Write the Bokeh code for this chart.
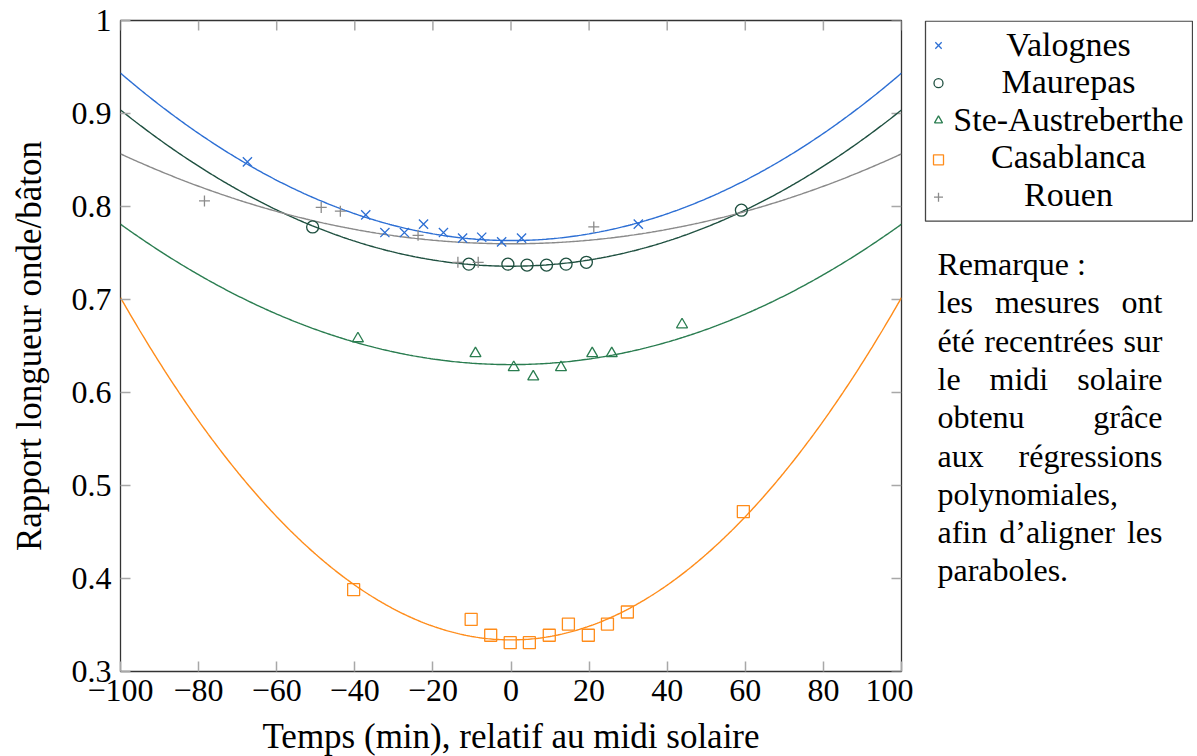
import numpy as np
from bokeh.plotting import figure
from bokeh.models import Range1d, FixedTicker
from bokeh.layouts import row
from bokeh.embed import file_html
from bokeh.resources import INLINE
from bokeh.core.properties import value

# ---------------- data ----------------
series_names = ["Valognes", "Maurepas", "Ste-Austreberthe", "Casablanca", "Rouen"]

valognes_x = [-67.5, -37.2, -32.3, -27.3, -22.4, -17.3, -12.4, -7.5, -2.4, 2.7, 32.6]
valognes_y = [0.848, 0.791, 0.772, 0.772, 0.781, 0.772, 0.766, 0.767, 0.762, 0.766, 0.781]

maurepas_x = [-50.8, -10.8, -0.8, 4.1, 9.1, 14.1, 19.3, 59.0]
maurepas_y = [0.778, 0.738, 0.738, 0.737, 0.737, 0.738, 0.740, 0.796]

ste_x = [-39.2, -9.1, 0.7, 5.7, 12.8, 20.8, 25.8, 43.8]
ste_y = [0.658, 0.642, 0.627, 0.617, 0.627, 0.642, 0.642, 0.673]

casa_x = [-40.3, -10.2, -5.2, -0.2, 4.7, 9.8, 14.7, 19.8, 24.7, 29.8, 59.5]
casa_y = [0.388, 0.356, 0.339, 0.331, 0.331, 0.339, 0.351, 0.339, 0.351, 0.364, 0.472]

rouen_x = [-78.5, -48.6, -43.7, -23.8, -13.6, -8.4, 21.2]
rouen_y = [0.806, 0.799, 0.795, 0.769, 0.740, 0.740, 0.778]

# regression parabolas y = c + a * t^2
fit_c = [0.7634, 0.7358, 0.630, 0.334, 0.7599]
fit_a = [1.80e-5, 1.68e-5, 1.51e-5, 3.68e-5, 9.67e-6]

x_ticks = [-100, -80, -60, -40, -20, 0, 20, 40, 60, 80, 100]
x_tick_labels = ["−100", "−80", "−60", "−40", "−20", "0", "20", "40", "60", "80", "100"]
y_ticks = [0.3, 0.4, 0.5, 0.6, 0.7, 0.8, 0.9, 1.0]
y_tick_labels = ["0.3", "0.4", "0.5", "0.6", "0.7", "0.8", "0.9", "1"]

remark_lines = [
    ["Remarque :"],
    ["les", "mesures", "ont"],
    ["été", "recentrées", "sur"],
    ["le", "midi", "solaire"],
    ["obtenu", "grâce"],
    ["aux", "régressions"],
    ["polynomiales,"],
    ["afin", "d’aligner", "les"],
    ["paraboles."],
]
remark_justified = [False, True, True, True, True, True, False, True, False]

# ---------------- styles ----------------
colors = ["#2d6fd4", "#1f5040", "#2a7d50", "#ff8c1a", "#8a8a8a"]
markers = ["x", "circle", "triangle", "square", "cross"]
msizes = [13, 12, 11, 12, 11]
leg_msizes = [9, 9, 8, 10, 9]
FONT = "Liberation Serif"

xs = [valognes_x, maurepas_x, ste_x, casa_x, rouen_x]
ys = [valognes_y, maurepas_y, ste_y, casa_y, rouen_y]

TOP, FH, BOT = 20, 651, 84
LEFT, FW, RIGHT = 120, 781, 12

p = figure(frame_width=FW, frame_height=FH, x_range=Range1d(-100, 100), y_range=Range1d(0.3, 1.0),
           output_backend="svg", toolbar_location=None,
           min_border_left=LEFT, min_border_right=RIGHT, min_border_top=TOP, min_border_bottom=BOT)
p.xgrid.visible = False
p.ygrid.visible = False
p.outline_line_color = "#333333"
p.outline_line_width = 1.3
p.background_fill_color = "white"
p.border_fill_color = "white"

tick_col = "#a8a8a8"

def style_axis(ax, ticks, labels):
    ax.ticker = FixedTicker(ticks=ticks)
    ax.major_label_overrides = {t: l for t, l in zip(ticks, labels)}
    ax.major_tick_in = 10
    ax.major_tick_out = 0
    ax.major_tick_line_color = tick_col
    ax.major_tick_line_width = 1.5
    ax.minor_tick_line_color = None
    ax.axis_line_color = None
    ax.major_label_text_font = FONT
    ax.major_label_text_color = "black"
    ax.major_label_text_font_size = "32px"
    ax.axis_label_text_font = FONT
    ax.axis_label_text_font_size = "35px"
    ax.axis_label_text_font_style = "normal"
    ax.axis_label_text_color = "black"

style_axis(p.xaxis[0], x_ticks, x_tick_labels)
style_axis(p.yaxis[0], y_ticks, y_tick_labels)
p.xaxis[0].major_label_standoff = 8
p.yaxis[0].major_label_standoff = 9
p.xaxis[0].axis_label = "Temps (min), relatif au midi solaire"
p.yaxis[0].axis_label = "Rapport longueur onde/bâton"
p.xaxis[0].axis_label_standoff = 13
p.yaxis[0].axis_label_standoff = 20

# mirrored inner ticks on the top and right edges of the frame
p.ray(x=x_ticks, y=[y_ticks[-1]] * len(x_ticks), length=10, length_units="screen",
      angle=-np.pi / 2, line_color=tick_col, line_width=1.5)
p.ray(x=[x_ticks[-1]] * len(y_ticks), y=y_ticks, length=10, length_units="screen",
      angle=np.pi, line_color=tick_col, line_width=1.5)

t = np.linspace(-100, 100, 401)
for i in range(5):
    p.line(t, fit_c[i] + fit_a[i] * t ** 2, line_color=colors[i], line_width=1.4)
for i in range(5):
    p.scatter(xs[i], ys[i], marker=markers[i], size=msizes[i], line_color=colors[i],
              fill_color=None, line_width=1.3)

# ---------------- side panel: legend + remark (data coords = page pixels) ----------------
X0 = LEFT + FW + RIGHT
SW = 280
s = figure(frame_width=SW, frame_height=FH, x_range=Range1d(X0, X0 + SW), y_range=Range1d(TOP + FH, TOP),
           output_backend="svg", toolbar_location=None, x_axis_type=None, y_axis_type=None,
           min_border_left=0, min_border_right=0, min_border_top=TOP, min_border_bottom=BOT)
s.outline_line_color = None
s.xgrid.visible = False
s.ygrid.visible = False
s.background_fill_color = "white"
s.border_fill_color = "white"

s.quad(left=925, right=X0 + SW - 1, top=TOP + 0.7, bottom=220.7, fill_color=None,
       line_color="#444444", line_width=1.3)
leg_marker_y = [45, 82.7, 120, 159.3, 196.7]
leg_text_y = [44, 81, 118.5, 156, 194]
for i in range(5):
    s.scatter([938], [leg_marker_y[i]], marker=markers[i], size=leg_msizes[i],
              line_color=colors[i], fill_color=None, line_width=1.3)
s.text(x=[1068] * 5, y=leg_text_y, text=series_names, text_align="center",
       text_baseline="alphabetic", text_font=value(FONT), text_font_size="34px", text_color="black")

# Times / Liberation Serif advance widths (1/1000 em) for justified layout
CW = dict(a=444, b=500, c=444, d=500, e=444, f=333, g=500, h=500, i=278, l=278, m=778, n=500,
          o=500, p=500, q=500, r=333, s=389, t=278, u=500, x=500, y=500)
CW.update({"é": 444, "â": 444, "’": 333, ",": 250, ".": 250, ":": 278, "R": 667, " ": 250})
RFS = 32
def word_w(w):
    return sum(CW.get(ch, 500) for ch in w) / 1000.0 * RFS

L, R = 937, 1162
base0, step = 263.5, 38.3
kw = dict(text_baseline="alphabetic", text_font=value(FONT), text_font_size=f"{RFS}px",
          text_color="black", text_align="left")
for i, words in enumerate(remark_lines):
    yb = base0 + i * step
    if not remark_justified[i]:
        s.text(x=[L], y=[yb], text=[" ".join(words)], **kw)
        continue
    widths = [word_w(w) for w in words]
    gap = (R - L - sum(widths)) / (len(words) - 1)
    xpos, cur = [], L
    for w in widths:
        xpos.append(cur)
        cur += w + gap
    s.text(x=xpos, y=[yb] * len(words), text=words, **kw)

layout = row(p, s, spacing=0)
open("out.html", "w").write(file_html(layout, INLINE))
